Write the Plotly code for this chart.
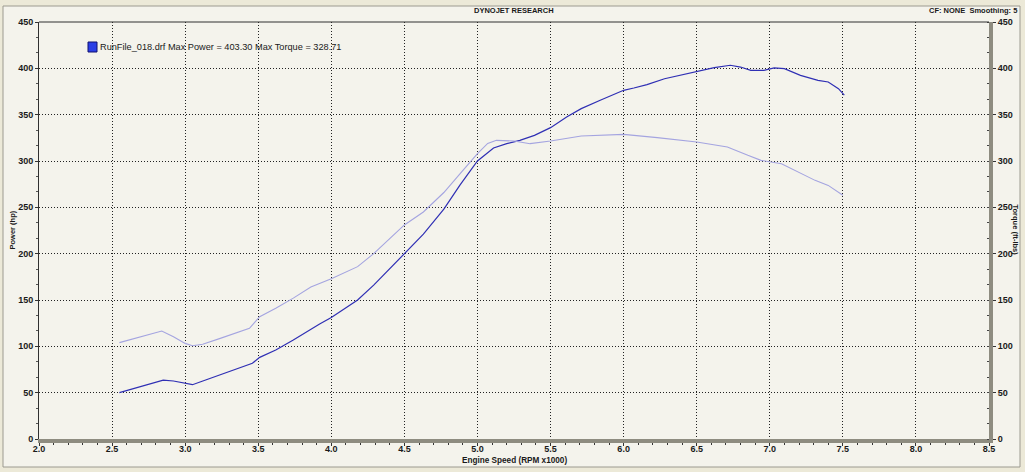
import plotly.graph_objects as go

# ---- data ----
rpm_power = [2.55, 2.69, 2.85, 2.92, 3.00, 3.05, 3.14, 3.24, 3.33, 3.46, 3.51, 3.62, 3.74, 3.83, 3.92,
             4.00, 4.18, 4.29, 4.40, 4.50, 4.63, 4.77, 4.88, 5.00, 5.05, 5.11, 5.20, 5.29, 5.39, 5.50,
             5.61, 5.71, 5.84, 6.00, 6.07, 6.16, 6.28, 6.39, 6.50, 6.62, 6.73, 6.80, 6.87, 6.96, 7.03,
             7.10, 7.21, 7.33, 7.40, 7.47, 7.51]
power_hp = [50.0, 56.5, 63.5, 62.6, 60.1, 58.6, 63.7, 69.1, 74.5, 81.7, 88.1, 96.0, 106.8, 115.8, 124.0,
            131.0, 150.0, 166.0, 184.0, 200.0, 221.0, 248.0, 274.0, 300.0, 306.0, 314.0, 318.7, 322.3, 327.7, 336.0,
            347.5, 356.5, 365.5, 376.3, 378.8, 382.4, 388.8, 392.4, 396.8, 400.7, 403.3, 401.4, 397.8, 397.8, 400.4,
            399.6, 392.4, 387.1, 385.3, 378.0, 371.0]

rpm_torque = [2.55, 2.69, 2.84, 2.92, 3.00, 3.05, 3.12, 3.24, 3.37, 3.44, 3.51, 3.62, 3.74, 3.86, 4.00,
              4.18, 4.29, 4.40, 4.50, 4.63, 4.77, 4.88, 5.00, 5.07, 5.13, 5.25, 5.36, 5.50, 5.71, 6.00,
              6.07, 6.23, 6.50, 6.71, 6.85, 6.94, 7.08, 7.19, 7.31, 7.40, 7.50]
torque_ftlb = [104.0, 110.4, 116.5, 110.4, 103.2, 100.7, 102.2, 108.6, 115.8, 119.4, 132.0, 141.0, 152.0, 164.0, 173.0,
               186.0, 200.0, 216.0, 231.0, 245.0, 266.0, 286.0, 308.0, 319.0, 322.3, 321.6, 318.7, 321.6, 327.0, 328.7,
               327.7, 325.2, 320.5, 315.1, 306.1, 300.7, 297.1, 288.1, 279.1, 273.7, 263.0]

x_ticks = [2.0, 2.5, 3.0, 3.5, 4.0, 4.5, 5.0, 5.5, 6.0, 6.5, 7.0, 7.5, 8.0, 8.5]
y_ticks = [0, 50, 100, 150, 200, 250, 300, 350, 400, 450]

title_text = "DYNOJET RESEARCH"
cf_text = "CF: NONE  Smoothing: 5"
legend_text = "RunFile_018.drf Max Power = 403.30 Max Torque = 328.71"
x_title = "Engine Speed (RPM x1000)"
y_title = "Power (hp)"
y2_title = "Torque (ft-lbs)"

# ---- geometry (pixels) ----
W, H = 1025, 472
L, R, T, B = 39, 989, 22, 439


def px(x):
    return (x - L) / (R - L)


def py(y):
    return (B - y) / (B - T)


FONT = "Liberation Sans"
tick_font = dict(family=FONT, size=9, color="#1a1a1a", weight="bold")

fig = go.Figure()
fig.add_trace(go.Scatter(x=rpm_torque, y=torque_ftlb, mode="lines", yaxis="y2",
                         line=dict(color="#a4a4e0", width=1.1), showlegend=False,
                         hoverinfo="skip"))
fig.add_trace(go.Scatter(x=rpm_power, y=power_hp, mode="lines",
                         line=dict(color="#2f2fb4", width=1.2), showlegend=False,
                         hoverinfo="skip"))

grid_dash = "1px,2px"
fig.update_layout(
    width=W, height=H,
    margin=dict(l=L, r=W - R, t=T, b=H - B, pad=0),
    paper_bgcolor="#ece9d8",
    plot_bgcolor="#ffffff",
    showlegend=False,
    xaxis=dict(range=[2.0, 8.5], tickvals=x_ticks, ticktext=[f"{v:.1f}" for v in x_ticks],
               showgrid=True, gridcolor="#222222", gridwidth=1, griddash=grid_dash,
               zeroline=False, showline=True, linecolor="#8e8c80", linewidth=4,
               ticks="outside", ticklen=3, tickcolor="#333333", tickwidth=1,
               ticklabelstandoff=-5,
               minor=dict(dtick=0.1, ticks="outside", ticklen=2, tickcolor="#333333", showgrid=False),
               tickfont=tick_font, fixedrange=True),
    yaxis=dict(range=[0, 450], tickvals=y_ticks, showgrid=True, gridcolor="#222222",
               gridwidth=1, griddash=grid_dash, zeroline=False, showline=True,
               linecolor="#303030", linewidth=1, ticks="outside", ticklen=3,
               tickcolor="#333333", minor=dict(dtick=50 / 3, ticks="outside", ticklen=2,
                                               tickcolor="#555555", showgrid=False),
               tickfont=tick_font, fixedrange=True),
    yaxis2=dict(range=[0, 450], tickvals=y_ticks, overlaying="y", side="right",
                showgrid=False, zeroline=False, showline=True, linecolor="#8e8c80",
                linewidth=4, ticks="outside", ticklen=3, tickcolor="#333333",
                minor=dict(dtick=50 / 3, ticks="inside", ticklen=2, tickcolor="#444444"),
                tickfont=tick_font, fixedrange=True),
)

shapes = [
    # inner light panel
    dict(type="rect", xref="paper", yref="paper", layer="below",
         x0=px(3), x1=px(1020), y0=py(467), y1=py(6),
         fillcolor="#f4f3ec", line=dict(color="#9c9a90", width=1)),
    # top frame line
    dict(type="line", xref="paper", yref="paper", x0=0, x1=1, y0=1, y1=1,
         line=dict(color="#303030", width=1)),
    # legend icon
    dict(type="rect", xref="paper", yref="paper",
         x0=px(88), x1=px(97), y0=py(52), y1=py(42),
         fillcolor="#2a3ee6", line=dict(color="#101070", width=1)),
]

annotations = [
    dict(text=title_text, x=0.5, y=py(11), xref="paper", yref="paper", showarrow=False,
         xanchor="center", yanchor="middle",
         font=dict(family=FONT, size=7.5, color="#1a1a1a", weight="bold")),
    dict(text=cf_text, x=px(1019), y=py(11), xref="paper", yref="paper", showarrow=False,
         xanchor="right", yanchor="middle",
         font=dict(family=FONT, size=7.5, color="#1a1a1a", weight="bold")),
    dict(text=legend_text, x=px(98), y=py(47), xref="paper", yref="paper", showarrow=False,
         xanchor="left", yanchor="middle",
         font=dict(family=FONT, size=9.2, color="#1a1a1a")),
    dict(text=x_title, x=0.5, y=py(461), xref="paper", yref="paper", showarrow=False,
         xanchor="center", yanchor="middle",
         font=dict(family=FONT, size=8.2, color="#1a1a1a", weight="bold")),
    dict(text=y_title, x=px(12), y=0.5, xref="paper", yref="paper", showarrow=False,
         xanchor="center", yanchor="middle", textangle=-90,
         font=dict(family=FONT, size=7.5, color="#1a1a1a", weight="bold")),
    dict(text=y2_title, x=px(1015), y=0.5, xref="paper", yref="paper", showarrow=False,
         xanchor="center", yanchor="middle", textangle=90,
         font=dict(family=FONT, size=7.5, color="#1a1a1a", weight="bold")),
]

fig.update_layout(shapes=shapes, annotations=annotations)
fig.write_html("out.html", config={"displayModeBar": False},
               post_script="document.body.style.margin='0px';document.body.style.overflow='hidden';")
